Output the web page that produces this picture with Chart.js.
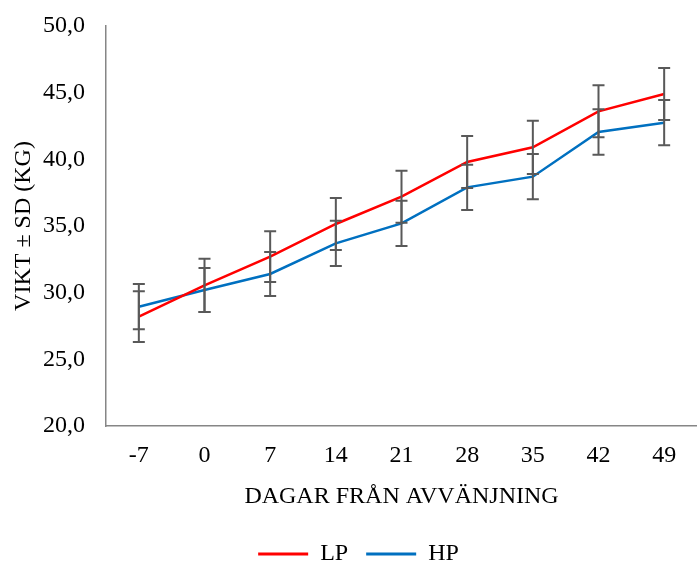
<!DOCTYPE html>
<html>
<head>
<meta charset="utf-8">
<script src="https://cdn.jsdelivr.net/npm/chart.js@4.4.1/dist/chart.umd.min.js"></script>
<style>
  body { margin: 0; background: #fff; }
  #wrap { width: 697px; height: 564px; }
</style>
</head>
<body>
<div id="wrap"><canvas id="chart" width="697" height="564"></canvas></div>
<script>
// days from weaning
var days = ['-7', '0', '7', '14', '21', '28', '35', '42', '49'];
// mean weight (kg)
var lpMean = [28.2, 30.55, 32.7, 35.15, 37.2, 39.8, 40.9, 43.6, 44.9];
var hpMean = [28.95, 30.2, 31.4, 33.7, 35.2, 37.9, 38.7, 42.05, 42.75];
// standard deviation (kg)
var lpSd = [1.9, 2.0, 1.9, 1.95, 1.95, 1.95, 2.0, 1.95, 1.95];
var hpSd = [1.7, 1.65, 1.65, 1.7, 1.7, 1.7, 1.7, 1.7, 1.7];
var yTicks = [20, 25, 30, 35, 40, 45, 50];

var serif = "'Liberation Serif', 'Times New Roman', serif";
var textColor = '#000000';
var axisColor = '#868686';

// draws the +/- SD whiskers for each dataset
var errorBars = {
    id: 'errorBars',
    afterDatasetsDraw: function(chart) {
        var ctx = chart.ctx;
        var yScale = chart.scales.y;
        ctx.save();
        ctx.strokeStyle = '#595959';
        ctx.lineWidth = 2;
        chart.data.datasets.forEach(function(ds, i) {
            var meta = chart.getDatasetMeta(i);
            meta.data.forEach(function(pt, j) {
                var top = yScale.getPixelForValue(ds.data[j] + ds.sd[j]);
                var bot = yScale.getPixelForValue(ds.data[j] - ds.sd[j]);
                var x = pt.x;
                ctx.beginPath();
                ctx.moveTo(x, top); ctx.lineTo(x, bot);
                ctx.moveTo(x - 6, top); ctx.lineTo(x + 6, top);
                ctx.moveTo(x - 6, bot); ctx.lineTo(x + 6, bot);
                ctx.stroke();
            });
        });
        ctx.restore();
    }
};

// nudge the legend a bit to the right, like the original
var legendShift = {
    id: 'legendShift',
    afterLayout: function(chart) {
        if (chart.legend) chart.legend.left += 20;
    }
};

var ctx = document.getElementById('chart').getContext('2d');
var chart = new Chart(ctx, {
    type: 'line',
    data: {
        labels: days,
        datasets: [{
            label: 'LP',
            data: lpMean,
            sd: lpSd,
            borderColor: '#FF0000',
            backgroundColor: '#FF0000',
            borderWidth: 2.5,
            pointRadius: 0,
            tension: 0,
            fill: false
        }, {
            label: 'HP',
            data: hpMean,
            sd: hpSd,
            borderColor: '#0070C0',
            backgroundColor: '#0070C0',
            borderWidth: 2.5,
            pointRadius: 0,
            tension: 0,
            fill: false
        }]
    },
    options: {
        responsive: false,
        animation: false,
        layout: { padding: { top: 26, right: 0, left: 0, bottom: -12 } },
        plugins: {
            tooltip: { enabled: false },
            legend: {
                position: 'bottom',
                labels: {
                    boxWidth: 50,
                    boxHeight: 3,
                    padding: 18,
                    color: textColor,
                    font: { family: serif, size: 24 },
                    generateLabels: function(c) {
                        return c.data.datasets.map(function(ds, i) {
                            return {
                                text: ds.label,
                                fillStyle: ds.borderColor,
                                strokeStyle: ds.borderColor,
                                lineWidth: 0,
                                fontColor: textColor,
                                datasetIndex: i
                            };
                        });
                    }
                }
            }
        },
        scales: {
            x: {
                offset: true,
                afterFit: function(scale) { scale.height = 98; },
                grid: { display: false, drawTicks: false },
                border: { display: true, color: axisColor, width: 1.5 },
                ticks: {
                    color: textColor,
                    font: { family: serif, size: 24 },
                    padding: 15,
                    maxRotation: 0
                },
                title: {
                    display: true,
                    text: 'DAGAR FRÅN AVVÄNJNING',
                    color: textColor,
                    font: { family: serif, size: 24 },
                    padding: { top: 10, bottom: 13 }
                }
            },
            y: {
                min: 20,
                max: 50,
                afterBuildTicks: function(scale) {
                    scale.ticks = yTicks.map(function(v) { return { value: v }; });
                },
                afterFit: function(scale) {
                    scale.width = 106;
                    scale.paddingTop = 10;
                },
                grid: { display: false, drawTicks: false },
                border: { display: true, color: axisColor, width: 1.5 },
                ticks: {
                    color: textColor,
                    font: { family: serif, size: 24 },
                    padding: 21,
                    callback: function(v) { return v.toFixed(1).replace('.', ','); }
                },
                title: {
                    display: true,
                    text: 'VIKT ± SD (KG)',
                    color: textColor,
                    font: { family: serif, size: 24 },
                    padding: { top: 9, bottom: 0 }
                }
            }
        }
    },
    plugins: [errorBars, legendShift]
});
</script>
</body>
</html>
